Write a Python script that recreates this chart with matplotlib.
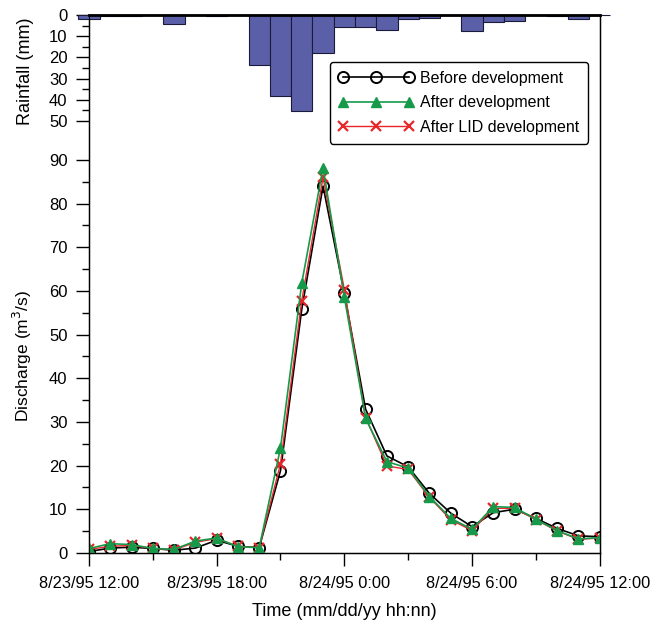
import numpy as np
import matplotlib.pyplot as plt
from matplotlib.ticker import MultipleLocator, FixedLocator

plt.rcParams['font.family'] = ['Liberation Sans', 'DejaVu Sans']

# hours after 8/23/95 12:00
hours = list(range(25))

rain = [2.0, 0.3, 0.3, 0.0, 4.4, 0.0, 0.3, 0.0, 23.5, 38.4, 45.3, 18.0, 5.8,
        5.8, 7.2, 1.7, 1.3, 0.0, 7.8, 3.3, 2.8, 0.0, 0.4, 1.7, 0.2]

before = [0.3, 1.1, 1.3, 1.0, 0.6, 1.1, 2.9, 1.5, 1.2, 18.8, 55.8, 84.0, 59.5,
          32.9, 22.2, 19.7, 13.6, 9.1, 6.0, 9.2, 10.0, 7.9, 5.6, 3.9, 3.7]
after = [1.0, 2.1, 1.9, 1.0, 0.8, 2.7, 3.4, 1.4, 1.2, 24.0, 61.8, 88.2, 58.6,
         30.8, 20.9, 19.4, 12.9, 7.9, 5.4, 10.6, 10.4, 7.7, 5.1, 3.2, 3.5]
after_lid = [0.8, 1.5, 1.7, 1.0, 0.7, 2.4, 3.3, 1.5, 1.2, 20.4, 57.8, 86.0, 60.3,
             31.0, 19.9, 19.1, 12.7, 7.6, 5.1, 10.2, 10.2, 7.6, 5.0, 3.1, 3.4]

tick_hours = [0, 6, 12, 18, 24]
tick_labels = ['8/23/95 12:00', '8/23/95 18:00', '8/24/95 0:00',
               '8/24/95 6:00', '8/24/95 12:00']

fig = plt.figure(figsize=(6.54, 6.24), dpi=100)
ax = fig.add_axes([0.136, 0.114, 0.781, 0.862])

ax.plot(hours, before, color='black', lw=1.2, marker='o', ms=8,
        mfc='none', mec='black', mew=1.4, label='Before development', zorder=3)
ax.plot(hours, after_lid, color='#e8262a', lw=1.0, marker='x', ms=7,
        mew=1.6, label='After LID development', zorder=4)
ax.plot(hours, after, color='#17994a', lw=1.2, marker='^', ms=7,
        mec='#17994a', label='After development', zorder=5)

ax.set_xlim(0, 24)
ax.set_ylim(0, 123.2)
ax.xaxis.set_major_locator(FixedLocator(tick_hours))
ax.set_xticklabels(tick_labels)
ax.xaxis.set_minor_locator(MultipleLocator(3))
ax.yaxis.set_major_locator(FixedLocator(range(0, 91, 10)))
ax.yaxis.set_minor_locator(FixedLocator(range(5, 91, 10)))
ax.tick_params(which='major', length=9.5, width=1, labelsize=12, direction='out', pad=6)
ax.tick_params(which='minor', length=5, width=1, direction='out')
ax.tick_params(axis='x', labelsize=11.8, pad=7)
ax.set_xlabel('Time (mm/dd/yy hh:nn)', fontsize=13, labelpad=9)
ax.set_ylabel('Discharge (m$^3$/s)', fontsize=12.5)
ax.yaxis.set_label_coords(-0.108, 0.366)
for s in ax.spines.values():
    s.set_linewidth(1)

# rainfall, hanging from the top
ax2 = ax.twinx()
ax2.bar(hours, rain, width=1.0, color='#5b5fa8', edgecolor='#1a1a3a',
        linewidth=0.8, clip_on=False, zorder=2)
ax2.set_ylim(254, 0)
ax2.yaxis.tick_left()
ax2.yaxis.set_label_position('left')
ax2.yaxis.set_major_locator(FixedLocator(range(0, 51, 10)))
ax2.yaxis.set_minor_locator(FixedLocator(range(5, 50, 10)))
ax2.tick_params(which='major', length=9.5, width=1, labelsize=12, pad=6)
ax2.tick_params(which='minor', length=5, width=1)
ax2.set_ylabel('Rainfall (mm)', fontsize=13)
ax2.yaxis.set_label_coords(-0.108, 0.895)
ax2.spines['top'].set_linewidth(2)

h, l = ax.get_legend_handles_labels()
order = [0, 2, 1]
leg = ax2.legend([h[i] for i in order], [l[i] for i in order], loc='upper right',
                 bbox_to_anchor=(0.977, 0.913), borderaxespad=0, fontsize=11.5,
                 numpoints=3, handlelength=4.7, handletextpad=0.4,
                 labelspacing=0.6, borderpad=0.55, frameon=True, fancybox=True,
                 framealpha=1, edgecolor='black')
leg.get_frame().set_linewidth(1)

fig.savefig('out.png', dpi=100)
